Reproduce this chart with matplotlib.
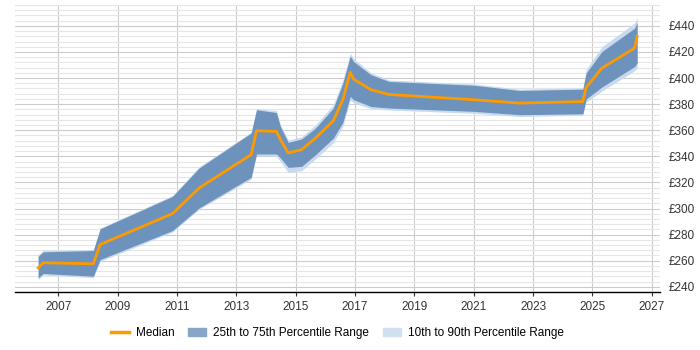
import numpy as np
import matplotlib
matplotlib.use("Agg")
import matplotlib.pyplot as plt
import matplotlib.patches as mpatches
from matplotlib.lines import Line2D
from matplotlib.ticker import MultipleLocator, FuncFormatter

plt.rcParams["font.family"] = ["Liberation Sans", "DejaVu Sans"]

# ---------------------------------------------------------------------------
# Data
# ---------------------------------------------------------------------------

years = [2006.32, 2006.49, 2008.18, 2008.41, 2010.85, 2011.75, 2013.50, 2013.68,
         2014.35, 2014.49, 2014.75, 2015.20, 2015.67, 2016.27, 2016.59, 2016.84,
         2016.95, 2017.54, 2018.15, 2021.00, 2022.54, 2024.68, 2024.79, 2025.32,
         2026.42, 2026.51]

median = [254.5, 258.4, 257.6, 272.4, 296.1, 315.8, 341.3, 359.6,
          359.1, 352.7, 342.6, 345.1, 354.0, 367.3, 383.4, 404.5,
          399.2, 391.0, 387.4, 383.4, 380.8, 382.0, 392.8, 407.6,
          422.9, 431.8]

p25 = [246.9, 250.2, 248.1, 260.9, 283.1, 300.5, 323.9, 341.8,
       341.8, 338.7, 331.5, 332.3, 341.3, 354.0, 366.0, 385.9,
       383.4, 378.2, 377.0, 374.5, 371.9, 372.6, 383.9, 393.1,
       408.8, 411.4]

p75 = [263.4, 266.8, 267.8, 284.4, 309.3, 331.1, 357.9, 375.7,
       373.6, 362.5, 350.7, 353.3, 361.7, 377.0, 396.1, 416.8,
       412.7, 402.5, 397.4, 394.5, 390.5, 391.5, 403.8, 420.3,
       438.2, 442.5]

p10 = [245.5, 249.0, 247.0, 259.5, 282.0, 299.5, 322.5, 340.5,
       340.0, 336.0, 327.5, 329.0, 338.0, 350.5, 363.0, 383.0,
       381.0, 376.5, 375.5, 373.0, 370.5, 371.5, 381.5, 390.0,
       405.5, 407.5]

p90 = [264.5, 268.0, 268.5, 285.0, 310.0, 332.0, 358.5, 376.5,
       375.0, 364.0, 352.5, 355.0, 364.0, 379.5, 398.5, 419.0,
       415.0, 404.0, 398.5, 395.5, 391.5, 392.5, 406.5, 424.0,
       442.0, 446.5]

year_ticks = [2007, 2009, 2011, 2013, 2015, 2017, 2019, 2021, 2023, 2025, 2027]

MEDIAN_COLOR = "#ff9900"
IQR_COLOR = "#6d93bc"
OUTER_COLOR = "#c8daee"

# ---------------------------------------------------------------------------
# Plot
# ---------------------------------------------------------------------------

fig = plt.figure(figsize=(7, 3.5), dpi=100)
ax = fig.add_axes([15 / 700, 1 - 292 / 350, 645 / 700, 287 / 350])

ax.fill_between(years, p10, p90, color=OUTER_COLOR, linewidth=0, zorder=2)
ax.fill_between(years, p25, p75, color=IQR_COLOR, linewidth=0, zorder=3)
ax.plot(years, median, color=MEDIAN_COLOR, linewidth=2, zorder=4)

ax.set_xlim(2005.54, 2027.28)
ax.set_ylim(236, 456)
ax.set_xticks(year_ticks)
ax.set_xticklabels([str(y) for y in year_ticks])
ax.yaxis.set_major_locator(MultipleLocator(20))
ax.yaxis.set_minor_locator(MultipleLocator(4))
ax.yaxis.set_major_formatter(FuncFormatter(lambda v, _: f"£{v:.0f}"))
ax.set_yticks([v for v in range(240, 441, 20)])
ax.yaxis.tick_right()

ax.grid(which="major", axis="both", color="#cccccc", linewidth=0.8, zorder=0)
ax.grid(which="minor", axis="y", color="#e6e6e6", linewidth=0.8, zorder=0)
ax.set_axisbelow(True)

for side in ["top", "left", "right"]:
    ax.spines[side].set_visible(False)
ax.spines["bottom"].set_color("black")
ax.spines["bottom"].set_linewidth(1)

ax.tick_params(axis="y", which="both", length=0, labelsize=8.5, pad=6, colors="#333333")
ax.tick_params(axis="x", length=3, labelsize=8.5, color="#333333", colors="#333333")

handles = [
    Line2D([0], [0], color=MEDIAN_COLOR, linewidth=2.5),
    mpatches.Patch(color="#87a5c6"),
    mpatches.Patch(color="#d0e0f0"),
]
labels = ["Median", "25th to 75th Percentile Range", "10th to 90th Percentile Range"]
fig.legend(handles, labels, loc="center", bbox_to_anchor=(0.482, 1 - 333 / 350),
           ncol=3, frameon=False, fontsize=8.5, handlelength=1.5,
           columnspacing=1.2, handletextpad=0.6)

plt.savefig("out.png", dpi=100)
